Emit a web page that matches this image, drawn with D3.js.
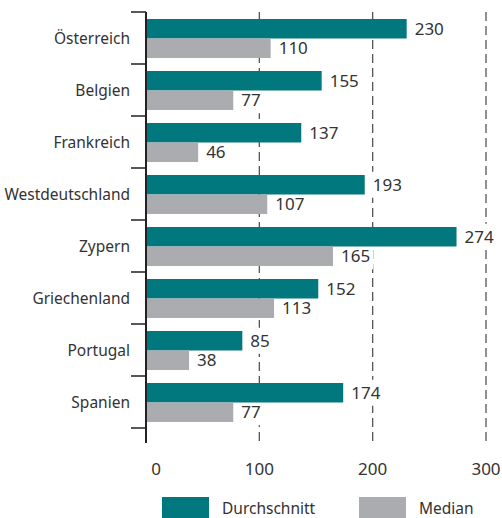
<!DOCTYPE html>
<html>
<head>
<meta charset="utf-8">
<script src="https://cdn.jsdelivr.net/npm/d3@7"></script>
<style>
  body { margin: 0; background: #fff; }
  svg text { font-family: "Noto Sans", "Open Sans", sans-serif; font-stretch: semi-condensed; fill: #333; }
</style>
</head>
<body>
<div id="chart"></div>
<script>
const countries = ['Österreich', 'Belgien', 'Frankreich', 'Westdeutschland', 'Zypern', 'Griechenland', 'Portugal', 'Spanien'];
const durchschnitt = [230, 155, 137, 193, 274, 152, 85, 174];
const median = [110, 77, 46, 107, 165, 113, 38, 77];
const xTicks = [0, 100, 200, 300];
const seriesNames = ['Durchschnitt', 'Median'];

const width = 502;
const height = 518;
const margin = { top: 12, left: 146 };
const plotBottom = 428;

const svg = d3.select('#chart')
  .append('svg')
  .attr('width', width)
  .attr('height', height);

const x = d3.scaleLinear()
  .domain([0, 300])
  .range([margin.left, 486]);

const y = d3.scaleBand()
  .domain(countries)
  .range([margin.top, plotBottom]);

const color = d3.scaleOrdinal()
  .domain(seriesNames)
  .range(['#00787e', '#abacb0']);

// dashed grid lines
svg.append('g')
  .selectAll('line')
  .data(xTicks.slice(1))
  .enter()
  .append('line')
  .attr('x1', d => x(d))
  .attr('x2', d => x(d))
  .attr('y1', margin.top)
  .attr('y2', 443)
  .attr('stroke', '#555')
  .attr('stroke-width', 1.3)
  .attr('stroke-dasharray', '9,5');

// white boxes behind value labels (filled in once the labels exist)
const labelBg = svg.append('g');

const rows = countries.map((c, i) => ({ country: c, values: [durchschnitt[i], median[i]] }));
const barH = 19.5;
const padTop = 7;

const row = svg.append('g')
  .selectAll('g')
  .data(rows)
  .enter()
  .append('g')
  .attr('transform', d => `translate(0, ${y(d.country)})`);

row.selectAll('rect')
  .data(d => d.values.map((v, j) => ({ v, j })))
  .enter()
  .append('rect')
  .attr('x', x(0))
  .attr('y', d => padTop + d.j * barH)
  .attr('width', d => x(d.v) - x(0))
  .attr('height', barH)
  .attr('fill', d => color(seriesNames[d.j]));

row.each(function (r) {
  const g = d3.select(this);
  r.values.forEach((v, j) => {
    const cy = padTop + j * barH + barH / 2;
    const t = g.append('text')
      .attr('x', x(v) + 8)
      .attr('y', cy)
      .attr('dy', '0.36em')
      .style('font-size', '17px')
      .text(v);
    const bb = t.node().getBBox();
    labelBg.append('rect')
      .attr('x', bb.x - 3)
      .attr('y', y(r.country) + cy - 13)
      .attr('width', bb.width + 6)
      .attr('height', 26)
      .attr('fill', '#fff');
  });
});

// category labels
svg.append('g')
  .selectAll('text')
  .data(countries)
  .enter()
  .append('text')
  .attr('x', 130)
  .attr('y', d => y(d) + y.bandwidth() / 2)
  .attr('dy', '0.36em')
  .attr('text-anchor', 'end')
  .style('font-size', '15.5px')
  .text(d => d);

// y axis with ticks at band edges
const edges = countries.map(c => y(c)).concat([plotBottom]);
svg.append('g')
  .selectAll('line')
  .data(edges)
  .enter()
  .append('line')
  .attr('x1', 131)
  .attr('x2', margin.left)
  .attr('y1', d => d)
  .attr('y2', d => d)
  .attr('stroke', '#222')
  .attr('stroke-width', 1.5);

svg.append('line')
  .attr('x1', margin.left)
  .attr('x2', margin.left)
  .attr('y1', margin.top)
  .attr('y2', 443)
  .attr('stroke', '#222')
  .attr('stroke-width', 2);

// x tick labels
svg.append('g')
  .selectAll('text')
  .data(xTicks)
  .enter()
  .append('text')
  .attr('x', d => d === 0 ? x(d) + 10 : x(d))
  .attr('y', 475)
  .attr('text-anchor', 'middle')
  .style('font-size', '17px')
  .text(d => d);

// legend
const legend = svg.append('g')
  .attr('transform', 'translate(0, 497)');

[162, 359].forEach((lx, i) => {
  legend.append('rect')
    .attr('x', lx)
    .attr('y', 0)
    .attr('width', 47)
    .attr('height', 22)
    .attr('fill', color(seriesNames[i]));
  legend.append('text')
    .attr('x', lx + 60)
    .attr('y', 11)
    .attr('dy', '0.36em')
    .style('font-size', '15.5px')
    .text(seriesNames[i]);
});
</script>
</body>
</html>
